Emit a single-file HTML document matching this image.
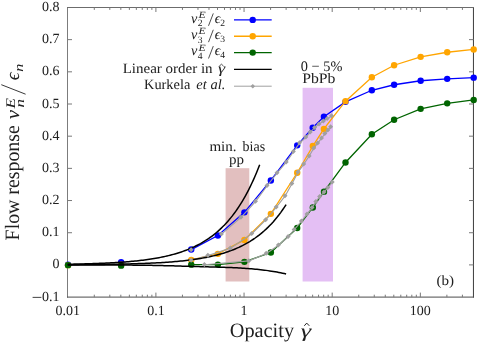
<!DOCTYPE html>
<html><head><meta charset="utf-8"><title>Flow response</title>
<style>html,body{margin:0;padding:0;background:#fff}body{width:478px;height:342px;overflow:hidden;font-family:"Liberation Serif",serif}svg{display:block}</style>
</head><body><svg width="478" height="342" viewBox="0 0 478 342" style="will-change:transform" text-rendering="geometricPrecision">
<rect x="0" y="0" width="478" height="342" fill="#fff"/>
<rect x="225.6" y="168.2" width="23.7" height="113.3" fill="#e2bfbf"/>
<rect x="302.6" y="87.8" width="30.4" height="193.7" fill="#e4bff4"/>
<path d="M67.5 7.0V297.6" stroke="#7c7c7c" stroke-width="1" fill="none"/>
<path d="M473.45 7.0V297.6" stroke="#3c3c3c" stroke-width="1" fill="none"/>
<path d="M67.0 7.5H473.95" stroke="#6c6c6c" stroke-width="1" fill="none"/>
<path d="M67.0 297.1H473.95" stroke="#4c4c4c" stroke-width="1" fill="none"/>
<path d="M67.50 264.90h4.5M473.50 264.90h-4.5M67.50 232.72h4.5M473.50 232.72h-4.5M67.50 200.54h4.5M473.50 200.54h-4.5M67.50 168.36h4.5M473.50 168.36h-4.5M67.50 136.18h4.5M473.50 136.18h-4.5M67.50 104.00h4.5M473.50 104.00h-4.5M67.50 71.82h4.5M473.50 71.82h-4.5M67.50 39.64h4.5M473.50 39.64h-4.5M94.29 297.10v-2.4 M94.29 7.50v2.4M109.81 297.10v-2.4 M109.81 7.50v2.4M120.82 297.10v-2.4 M120.82 7.50v2.4M129.36 297.10v-2.4 M129.36 7.50v2.4M136.34 297.10v-2.4 M136.34 7.50v2.4M142.25 297.10v-2.4 M142.25 7.50v2.4M147.36 297.10v-2.4 M147.36 7.50v2.4M151.87 297.10v-2.4 M151.87 7.50v2.4M155.90 297.10v-4.5 M155.90 7.50v4.5M182.44 297.10v-2.4 M182.44 7.50v2.4M197.96 297.10v-2.4 M197.96 7.50v2.4M208.97 297.10v-2.4 M208.97 7.50v2.4M217.51 297.10v-2.4 M217.51 7.50v2.4M224.49 297.10v-2.4 M224.49 7.50v2.4M230.40 297.10v-2.4 M230.40 7.50v2.4M235.51 297.10v-2.4 M235.51 7.50v2.4M240.02 297.10v-2.4 M240.02 7.50v2.4M244.05 297.10v-4.5 M244.05 7.50v4.5M270.59 297.10v-2.4 M270.59 7.50v2.4M286.11 297.10v-2.4 M286.11 7.50v2.4M297.12 297.10v-2.4 M297.12 7.50v2.4M305.66 297.10v-2.4 M305.66 7.50v2.4M312.64 297.10v-2.4 M312.64 7.50v2.4M318.55 297.10v-2.4 M318.55 7.50v2.4M323.66 297.10v-2.4 M323.66 7.50v2.4M328.17 297.10v-2.4 M328.17 7.50v2.4M332.20 297.10v-4.5 M332.20 7.50v4.5M358.74 297.10v-2.4 M358.74 7.50v2.4M374.26 297.10v-2.4 M374.26 7.50v2.4M385.27 297.10v-2.4 M385.27 7.50v2.4M393.81 297.10v-2.4 M393.81 7.50v2.4M400.79 297.10v-2.4 M400.79 7.50v2.4M406.70 297.10v-2.4 M406.70 7.50v2.4M411.81 297.10v-2.4 M411.81 7.50v2.4M416.32 297.10v-2.4 M416.32 7.50v2.4M420.35 297.10v-4.5 M420.35 7.50v4.5M446.89 297.10v-2.4 M446.89 7.50v2.4M462.41 297.10v-2.4 M462.41 7.50v2.4" fill="none" stroke="#787878" stroke-width="1"/>
<polyline fill="none" stroke="#0000ff" stroke-width="1.3"  points="191.25,249.55 217.90,235.55 244.40,212.35 270.85,180.45 297.20,145.35 312.70,127.75 323.90,116.65 345.50,101.85 371.85,90.25 394.10,84.75 420.65,80.75 447.20,78.85 473.70,77.65"/>
<circle cx="68.05" cy="264.70" r="3.2" fill="#0000ff"/><circle cx="121.12" cy="262.30" r="3.2" fill="#0000ff"/><circle cx="191.25" cy="249.55" r="3.2" fill="#0000ff"/><circle cx="217.90" cy="235.55" r="3.2" fill="#0000ff"/><circle cx="244.40" cy="212.35" r="3.2" fill="#0000ff"/><circle cx="270.85" cy="180.45" r="3.2" fill="#0000ff"/><circle cx="297.20" cy="145.35" r="3.2" fill="#0000ff"/><circle cx="312.70" cy="127.75" r="3.2" fill="#0000ff"/><circle cx="323.90" cy="116.65" r="3.2" fill="#0000ff"/><circle cx="345.50" cy="101.85" r="3.2" fill="#0000ff"/><circle cx="371.85" cy="90.25" r="3.2" fill="#0000ff"/><circle cx="394.10" cy="84.75" r="3.2" fill="#0000ff"/><circle cx="420.65" cy="80.75" r="3.2" fill="#0000ff"/><circle cx="447.20" cy="78.85" r="3.2" fill="#0000ff"/><circle cx="473.70" cy="77.65" r="3.2" fill="#0000ff"/>
<polyline fill="none" stroke="#ffa500" stroke-width="1.3"  points="191.25,259.95 217.90,253.85 244.40,239.95 270.85,213.85 297.20,172.75 312.80,146.05 323.90,128.95 345.50,101.15 371.85,77.25 394.10,65.25 420.65,56.85 447.20,52.25 473.70,49.45"/>
<circle cx="68.05" cy="265.15" r="3.2" fill="#ffa500"/><circle cx="121.12" cy="264.65" r="3.2" fill="#ffa500"/><circle cx="191.25" cy="259.95" r="3.2" fill="#ffa500"/><circle cx="217.90" cy="253.85" r="3.2" fill="#ffa500"/><circle cx="244.40" cy="239.95" r="3.2" fill="#ffa500"/><circle cx="270.85" cy="213.85" r="3.2" fill="#ffa500"/><circle cx="297.20" cy="172.75" r="3.2" fill="#ffa500"/><circle cx="312.80" cy="146.05" r="3.2" fill="#ffa500"/><circle cx="323.90" cy="128.95" r="3.2" fill="#ffa500"/><circle cx="345.50" cy="101.15" r="3.2" fill="#ffa500"/><circle cx="371.85" cy="77.25" r="3.2" fill="#ffa500"/><circle cx="394.10" cy="65.25" r="3.2" fill="#ffa500"/><circle cx="420.65" cy="56.85" r="3.2" fill="#ffa500"/><circle cx="447.20" cy="52.25" r="3.2" fill="#ffa500"/><circle cx="473.70" cy="49.45" r="3.2" fill="#ffa500"/>
<polyline fill="none" stroke="#006400" stroke-width="1.3"  points="191.25,264.65 217.90,264.60 244.40,261.85 270.85,252.55 297.20,227.95 312.80,207.45 324.00,191.65 345.50,162.45 371.85,134.25 394.10,119.75 420.65,108.85 447.20,103.35 473.70,99.95"/>
<circle cx="68.05" cy="265.15" r="3.2" fill="#006400"/><circle cx="121.12" cy="265.65" r="3.2" fill="#006400"/><circle cx="191.25" cy="264.65" r="3.2" fill="#006400"/><circle cx="217.90" cy="264.60" r="3.2" fill="#006400"/><circle cx="244.40" cy="261.85" r="3.2" fill="#006400"/><circle cx="270.85" cy="252.55" r="3.2" fill="#006400"/><circle cx="297.20" cy="227.95" r="3.2" fill="#006400"/><circle cx="312.80" cy="207.45" r="3.2" fill="#006400"/><circle cx="324.00" cy="191.65" r="3.2" fill="#006400"/><circle cx="345.50" cy="162.45" r="3.2" fill="#006400"/><circle cx="371.85" cy="134.25" r="3.2" fill="#006400"/><circle cx="394.10" cy="119.75" r="3.2" fill="#006400"/><circle cx="420.65" cy="108.85" r="3.2" fill="#006400"/><circle cx="447.20" cy="103.35" r="3.2" fill="#006400"/><circle cx="473.70" cy="99.95" r="3.2" fill="#006400"/>
<polyline fill="none" stroke="#a0a0a0" stroke-width="1.15"  points="221.55,234.15 241.05,217.35 255.65,201.35 267.15,185.75 277.15,172.95 286.35,162.15 293.45,151.75 299.65,142.95 305.95,137.25 310.35,132.15 314.75,127.65 319.15,124.05 323.55,121.05 327.25,118.65 331.65,115.95"/>
<polyline fill="none" stroke="#a0a0a0" stroke-width="1.15"  points="191.25,260.35 208.05,255.45 230.45,248.15 251.85,233.75 265.75,219.95 276.35,207.25 285.15,195.95 291.95,183.75 298.05,172.25 303.85,164.05 309.25,156.05 313.85,148.05 317.75,143.15 321.65,138.05 324.95,133.75 327.95,130.05 330.75,126.95"/>
<polyline fill="none" stroke="#a0a0a0" stroke-width="1.15"  points="204.55,264.75 248.95,260.85 266.35,253.45 278.55,245.25 288.25,236.75 294.25,229.55 301.55,221.05 307.15,214.15 312.15,207.55 315.95,201.55 319.75,196.55 324.15,192.15 327.95,187.65 332.35,182.05"/>
<polyline fill="none" stroke="#000000" stroke-width="1.5"  points="67.75,264.23 69.35,264.21 70.95,264.18 72.55,264.14 74.15,264.11 75.75,264.08 77.35,264.04 78.95,264.01 80.55,263.97 82.15,263.93 83.75,263.89 85.35,263.85 86.94,263.80 88.54,263.75 90.14,263.70 91.74,263.65 93.34,263.60 94.94,263.54 96.54,263.49 98.14,263.43 99.74,263.36 101.34,263.30 102.94,263.23 104.54,263.16 106.14,263.08 107.74,263.01 109.34,262.93 110.94,262.84 112.54,262.75 114.14,262.66 115.74,262.57 117.34,262.47 118.94,262.36 120.54,262.26 122.14,262.14 123.74,262.02 125.33,261.90 126.93,261.77 128.53,261.64 130.13,261.50 131.73,261.36 133.33,261.21 134.93,261.05 136.53,260.88 138.13,260.71 139.73,260.53 141.33,260.35 142.93,260.15 144.53,259.95 146.13,259.74 147.73,259.52 149.33,259.29 150.93,259.05 152.53,258.80 154.13,258.54 155.73,258.27 157.33,257.99 158.93,257.69 160.53,257.38 162.13,257.06 163.72,256.73 165.32,256.38 166.92,256.02 168.52,255.64 170.12,255.24 171.72,254.83 173.32,254.40 174.92,253.95 176.52,253.48 178.12,253.00 179.72,252.49 181.32,251.96 182.92,251.41 184.52,250.83 186.12,250.23 187.72,249.61 189.32,248.95 190.92,248.27 192.52,247.56 194.12,246.82 195.72,246.05 197.32,245.25 198.92,244.41 200.52,243.54 202.11,242.62 203.71,241.67 205.31,240.68 206.91,239.65 208.51,238.57 210.11,237.45 211.71,236.28 213.31,235.06 214.91,233.78 216.51,232.46 218.11,231.07 219.71,229.63 221.31,228.12 222.91,226.55 224.51,224.92 226.11,223.21 227.71,221.43 229.31,219.58 230.91,217.64 232.51,215.63 234.11,213.52 235.71,211.33 237.31,209.05 238.91,206.66 240.50,204.18 242.10,201.59 243.70,198.89 245.30,196.07 246.90,193.13 248.50,190.07 250.10,186.88 251.70,183.55 253.30,180.08 254.90,176.46 256.50,172.69 258.10,168.75 259.70,164.65"/>
<polyline fill="none" stroke="#000000" stroke-width="1.5"  points="67.75,264.70 69.57,264.69 71.39,264.68 73.21,264.67 75.03,264.66 76.85,264.64 78.67,264.63 80.49,264.62 82.31,264.61 84.13,264.59 85.95,264.58 87.77,264.56 89.59,264.54 91.41,264.53 93.23,264.51 95.04,264.49 96.86,264.47 98.68,264.45 100.50,264.43 102.32,264.40 104.14,264.38 105.96,264.35 107.78,264.33 109.60,264.30 111.42,264.27 113.24,264.24 115.06,264.21 116.88,264.17 118.70,264.14 120.52,264.10 122.34,264.06 124.16,264.02 125.98,263.98 127.80,263.93 129.62,263.89 131.44,263.84 133.26,263.79 135.08,263.73 136.90,263.68 138.72,263.62 140.54,263.55 142.36,263.49 144.18,263.42 146.00,263.35 147.81,263.27 149.63,263.19 151.45,263.11 153.27,263.02 155.09,262.93 156.91,262.83 158.73,262.73 160.55,262.63 162.37,262.52 164.19,262.40 166.01,262.28 167.83,262.15 169.65,262.02 171.47,261.88 173.29,261.73 175.11,261.58 176.93,261.42 178.75,261.25 180.57,261.07 182.39,260.88 184.21,260.69 186.03,260.48 187.85,260.27 189.67,260.04 191.49,259.80 193.31,259.56 195.13,259.30 196.95,259.02 198.76,258.74 200.58,258.44 202.40,258.12 204.22,257.79 206.04,257.45 207.86,257.08 209.68,256.70 211.50,256.31 213.32,255.89 215.14,255.45 216.96,254.99 218.78,254.51 220.60,254.00 222.42,253.47 224.24,252.91 226.06,252.33 227.88,251.72 229.70,251.08 231.52,250.40 233.34,249.70 235.16,248.96 236.98,248.18 238.80,247.37 240.62,246.51 242.44,245.62 244.26,244.68 246.08,243.69 247.90,242.66 249.72,241.58 251.53,240.44 253.35,239.25 255.17,238.01 256.99,236.70 258.81,235.32 260.63,233.88 262.45,232.37 264.27,230.79 266.09,229.13 267.91,227.39 269.73,225.56 271.55,223.65 273.37,221.64 275.19,219.53 277.01,217.33 278.83,215.01 280.65,212.58 282.47,210.03 284.29,207.36 286.11,204.56"/>
<polyline fill="none" stroke="#000000" stroke-width="1.5"  points="67.75,264.93 69.57,264.93 71.39,264.93 73.21,264.93 75.03,264.94 76.85,264.94 78.67,264.94 80.49,264.94 82.31,264.94 84.13,264.95 85.95,264.95 87.77,264.95 89.59,264.95 91.41,264.96 93.23,264.96 95.04,264.96 96.86,264.97 98.68,264.97 100.50,264.97 102.32,264.98 104.14,264.98 105.96,264.99 107.78,264.99 109.60,265.00 111.42,265.00 113.24,265.01 115.06,265.02 116.88,265.02 118.70,265.03 120.52,265.04 122.34,265.05 124.16,265.06 125.98,265.07 127.80,265.08 129.62,265.10 131.44,265.11 133.26,265.13 135.08,265.14 136.90,265.16 138.72,265.18 140.54,265.20 142.36,265.22 144.18,265.25 146.00,265.27 147.81,265.30 149.63,265.33 151.45,265.36 153.27,265.39 155.09,265.43 156.91,265.46 158.73,265.50 160.55,265.54 162.37,265.58 164.19,265.63 166.01,265.67 167.83,265.72 169.65,265.77 171.47,265.82 173.29,265.87 175.11,265.92 176.93,265.97 178.75,266.02 180.57,266.08 182.39,266.13 184.21,266.19 186.03,266.24 187.85,266.30 189.67,266.35 191.49,266.40 193.31,266.46 195.13,266.51 196.95,266.56 198.76,266.62 200.58,266.67 202.40,266.72 204.22,266.77 206.04,266.82 207.86,266.87 209.68,266.92 211.50,266.97 213.32,267.02 215.14,267.07 216.96,267.12 218.78,267.18 220.60,267.23 222.42,267.29 224.24,267.35 226.06,267.41 227.88,267.47 229.70,267.54 231.52,267.62 233.34,267.69 235.16,267.78 236.98,267.86 238.80,267.96 240.62,268.06 242.44,268.17 244.26,268.28 246.08,268.40 247.90,268.53 249.72,268.67 251.53,268.82 253.35,268.98 255.17,269.15 256.99,269.32 258.81,269.51 260.63,269.71 262.45,269.92 264.27,270.15 266.09,270.38 267.91,270.63 269.73,270.90 271.55,271.18 273.37,271.47 275.19,271.78 277.01,272.10 278.83,272.45 280.65,272.80 282.47,273.18 284.29,273.58 286.11,274.00"/>
<path d="M191.10 247.20l2.5 2.5l-2.5 2.5l-2.5 -2.5z" fill="#a0a0a0"/><path d="M221.40 231.50l2.5 2.5l-2.5 2.5l-2.5 -2.5z" fill="#a0a0a0"/><path d="M240.90 214.70l2.5 2.5l-2.5 2.5l-2.5 -2.5z" fill="#a0a0a0"/><path d="M255.50 198.70l2.5 2.5l-2.5 2.5l-2.5 -2.5z" fill="#a0a0a0"/><path d="M267.00 183.10l2.5 2.5l-2.5 2.5l-2.5 -2.5z" fill="#a0a0a0"/><path d="M277.00 170.30l2.5 2.5l-2.5 2.5l-2.5 -2.5z" fill="#a0a0a0"/><path d="M286.20 159.50l2.5 2.5l-2.5 2.5l-2.5 -2.5z" fill="#a0a0a0"/><path d="M293.30 149.10l2.5 2.5l-2.5 2.5l-2.5 -2.5z" fill="#a0a0a0"/><path d="M299.50 140.30l2.5 2.5l-2.5 2.5l-2.5 -2.5z" fill="#a0a0a0"/><path d="M305.80 134.60l2.5 2.5l-2.5 2.5l-2.5 -2.5z" fill="#a0a0a0"/><path d="M310.20 129.50l2.5 2.5l-2.5 2.5l-2.5 -2.5z" fill="#a0a0a0"/><path d="M314.60 125.00l2.5 2.5l-2.5 2.5l-2.5 -2.5z" fill="#a0a0a0"/><path d="M319.00 121.40l2.5 2.5l-2.5 2.5l-2.5 -2.5z" fill="#a0a0a0"/><path d="M323.40 118.40l2.5 2.5l-2.5 2.5l-2.5 -2.5z" fill="#a0a0a0"/><path d="M327.10 116.00l2.5 2.5l-2.5 2.5l-2.5 -2.5z" fill="#a0a0a0"/><path d="M331.50 113.30l2.5 2.5l-2.5 2.5l-2.5 -2.5z" fill="#a0a0a0"/>
<path d="M191.10 257.70l2.5 2.5l-2.5 2.5l-2.5 -2.5z" fill="#a0a0a0"/><path d="M207.90 252.80l2.5 2.5l-2.5 2.5l-2.5 -2.5z" fill="#a0a0a0"/><path d="M230.30 245.50l2.5 2.5l-2.5 2.5l-2.5 -2.5z" fill="#a0a0a0"/><path d="M251.70 231.10l2.5 2.5l-2.5 2.5l-2.5 -2.5z" fill="#a0a0a0"/><path d="M265.60 217.30l2.5 2.5l-2.5 2.5l-2.5 -2.5z" fill="#a0a0a0"/><path d="M276.20 204.60l2.5 2.5l-2.5 2.5l-2.5 -2.5z" fill="#a0a0a0"/><path d="M285.00 193.30l2.5 2.5l-2.5 2.5l-2.5 -2.5z" fill="#a0a0a0"/><path d="M291.80 181.10l2.5 2.5l-2.5 2.5l-2.5 -2.5z" fill="#a0a0a0"/><path d="M297.90 169.60l2.5 2.5l-2.5 2.5l-2.5 -2.5z" fill="#a0a0a0"/><path d="M303.70 161.40l2.5 2.5l-2.5 2.5l-2.5 -2.5z" fill="#a0a0a0"/><path d="M309.10 153.40l2.5 2.5l-2.5 2.5l-2.5 -2.5z" fill="#a0a0a0"/><path d="M313.70 145.40l2.5 2.5l-2.5 2.5l-2.5 -2.5z" fill="#a0a0a0"/><path d="M317.60 140.50l2.5 2.5l-2.5 2.5l-2.5 -2.5z" fill="#a0a0a0"/><path d="M321.50 135.40l2.5 2.5l-2.5 2.5l-2.5 -2.5z" fill="#a0a0a0"/><path d="M324.80 131.10l2.5 2.5l-2.5 2.5l-2.5 -2.5z" fill="#a0a0a0"/><path d="M327.80 127.40l2.5 2.5l-2.5 2.5l-2.5 -2.5z" fill="#a0a0a0"/><path d="M330.60 124.30l2.5 2.5l-2.5 2.5l-2.5 -2.5z" fill="#a0a0a0"/>
<path d="M204.40 262.10l2.5 2.5l-2.5 2.5l-2.5 -2.5z" fill="#a0a0a0"/><path d="M248.80 258.20l2.5 2.5l-2.5 2.5l-2.5 -2.5z" fill="#a0a0a0"/><path d="M266.20 250.80l2.5 2.5l-2.5 2.5l-2.5 -2.5z" fill="#a0a0a0"/><path d="M278.40 242.60l2.5 2.5l-2.5 2.5l-2.5 -2.5z" fill="#a0a0a0"/><path d="M288.10 234.10l2.5 2.5l-2.5 2.5l-2.5 -2.5z" fill="#a0a0a0"/><path d="M294.10 226.90l2.5 2.5l-2.5 2.5l-2.5 -2.5z" fill="#a0a0a0"/><path d="M301.40 218.40l2.5 2.5l-2.5 2.5l-2.5 -2.5z" fill="#a0a0a0"/><path d="M307.00 211.50l2.5 2.5l-2.5 2.5l-2.5 -2.5z" fill="#a0a0a0"/><path d="M312.00 204.90l2.5 2.5l-2.5 2.5l-2.5 -2.5z" fill="#a0a0a0"/><path d="M315.80 198.90l2.5 2.5l-2.5 2.5l-2.5 -2.5z" fill="#a0a0a0"/><path d="M319.60 193.90l2.5 2.5l-2.5 2.5l-2.5 -2.5z" fill="#a0a0a0"/><path d="M324.00 189.50l2.5 2.5l-2.5 2.5l-2.5 -2.5z" fill="#a0a0a0"/><path d="M327.80 185.00l2.5 2.5l-2.5 2.5l-2.5 -2.5z" fill="#a0a0a0"/><path d="M332.20 179.40l2.5 2.5l-2.5 2.5l-2.5 -2.5z" fill="#a0a0a0"/>
<path d="M234 19.90H271.7" stroke="#0000ff" stroke-width="1.3"/>
<circle cx="252.7" cy="19.90" r="3.2" fill="#0000ff"/>
<path d="M234 36.25H271.7" stroke="#ffa500" stroke-width="1.3"/>
<circle cx="252.7" cy="36.25" r="3.2" fill="#ffa500"/>
<path d="M234 52.60H271.7" stroke="#006400" stroke-width="1.3"/>
<circle cx="252.7" cy="52.60" r="3.2" fill="#006400"/>
<path d="M234 69.40H271.7" stroke="#000000" stroke-width="1.3"/>
<path d="M234 86.20H271.7" stroke="#a0a0a0" stroke-width="1.0"/>
<path d="M252.80 83.90l2.3 2.3l-2.3 2.3l-2.3 -2.3z" fill="#a0a0a0"/>
<g font-family="'Liberation Serif', serif" fill="#202020"><text x="59.6" y="300.58" font-size="14.0" text-anchor="end" >0.1</text><path d="M32.6 297.38H41.4" stroke="#222" stroke-width="0.85" fill="none"/><text x="59.6" y="268.4" font-size="14.0" text-anchor="end" >0</text><text x="59.6" y="236.21999999999997" font-size="14.0" text-anchor="end" >0.1</text><text x="59.6" y="204.03999999999996" font-size="14.0" text-anchor="end" >0.2</text><text x="59.6" y="171.85999999999996" font-size="14.0" text-anchor="end" >0.3</text><text x="59.6" y="139.67999999999998" font-size="14.0" text-anchor="end" >0.4</text><text x="59.6" y="107.49999999999994" font-size="14.0" text-anchor="end" >0.5</text><text x="59.6" y="75.31999999999994" font-size="14.0" text-anchor="end" >0.6</text><text x="59.6" y="43.13999999999996" font-size="14.0" text-anchor="end" >0.7</text><text x="59.6" y="10.95999999999998" font-size="14.0" text-anchor="end" >0.8</text><text x="67.75" y="315.0" font-size="14.0" text-anchor="middle" >0.01</text><text x="155.90" y="315.0" font-size="14.0" text-anchor="middle" >0.1</text><text x="244.05" y="315.0" font-size="14.0" text-anchor="middle" >1</text><text x="332.20" y="315.0" font-size="14.0" text-anchor="middle" >10</text><text x="420.35" y="315.0" font-size="14.0" text-anchor="middle" >100</text><text x="209.4" y="151.4" font-size="14.3" text-anchor="start" textLength="27.2" lengthAdjust="spacingAndGlyphs">min.</text><text x="242.6" y="151.4" font-size="14.3" text-anchor="start" textLength="22.6" lengthAdjust="spacingAndGlyphs">bias</text><text x="236.6" y="163.6" font-size="14.3" text-anchor="middle" textLength="15" lengthAdjust="spacingAndGlyphs">pp</text><text x="321.6" y="70.6" font-size="14.5" text-anchor="middle" textLength="41.5" lengthAdjust="spacingAndGlyphs">0 − 5%</text><text x="318.8" y="82.8" font-size="14.5" text-anchor="middle" textLength="33.2" lengthAdjust="spacingAndGlyphs">PbPb</text><text x="445.3" y="285.0" font-size="14.0" text-anchor="middle" textLength="17.6" lengthAdjust="spacingAndGlyphs">(b)</text><text x="191.0" y="22.60" font-size="14.2" font-style="italic">v</text><text x="198.4" y="17.90" font-size="9.6" font-style="italic" textLength="7.2" lengthAdjust="spacingAndGlyphs">E</text><text x="197.7" y="26.20" font-size="9.6">2</text><path d="M208.5 25.80L213.3 13.40" stroke="#222" stroke-width="0.8" fill="none"/><text x="214.8" y="22.60" font-size="14.2" font-style="italic">ϵ</text><text x="220.3" y="25.50" font-size="9.6">2</text><text x="191.0" y="38.95" font-size="14.2" font-style="italic">v</text><text x="198.4" y="34.25" font-size="9.6" font-style="italic" textLength="7.2" lengthAdjust="spacingAndGlyphs">E</text><text x="197.7" y="42.55" font-size="9.6">3</text><path d="M208.5 42.15L213.3 29.75" stroke="#222" stroke-width="0.8" fill="none"/><text x="214.8" y="38.95" font-size="14.2" font-style="italic">ϵ</text><text x="220.3" y="41.85" font-size="9.6">3</text><text x="191.0" y="55.30" font-size="14.2" font-style="italic">v</text><text x="198.4" y="50.60" font-size="9.6" font-style="italic" textLength="7.2" lengthAdjust="spacingAndGlyphs">E</text><text x="197.7" y="58.90" font-size="9.6">4</text><path d="M208.5 58.50L213.3 46.10" stroke="#222" stroke-width="0.8" fill="none"/><text x="214.8" y="55.30" font-size="14.2" font-style="italic">ϵ</text><text x="220.3" y="58.20" font-size="9.6">4</text><text x="122.7" y="72.6" font-size="14.2" textLength="89.9" lengthAdjust="spacingAndGlyphs">Linear order in</text><text x="217.9" y="72.6" font-size="14.2" font-style="italic" textLength="7.2" lengthAdjust="spacingAndGlyphs">γ</text><path d="M219.2 66.2L221.5 64.2L223.6 66.2" stroke="#222" stroke-width="0.8" fill="none"/><text x="144.0" y="88.8" font-size="14.2" textLength="46.3" lengthAdjust="spacingAndGlyphs">Kurkela</text><text x="196.3" y="88.8" font-size="14.2" font-style="italic" textLength="29.0" lengthAdjust="spacingAndGlyphs">et al.</text><text x="229.7" y="336.6" font-size="20.4" textLength="64.4" lengthAdjust="spacingAndGlyphs">Opacity</text><text x="300.8" y="336.6" font-size="18.5" font-style="italic" textLength="10.4" lengthAdjust="spacingAndGlyphs">γ</text><path d="M304.3 325.8L306.7 323.1L309.3 325.8" stroke="#222" stroke-width="1" fill="none"/><g transform="translate(18.7,240.4) rotate(-90)"><text x="0" y="0" font-size="20.4" textLength="115.2" lengthAdjust="spacingAndGlyphs">Flow response</text><text x="121.1" y="0" font-size="19.5" font-style="italic" textLength="9.3" lengthAdjust="spacingAndGlyphs">v</text><text x="131.9" y="-3.6" font-size="13.2" font-style="italic" textLength="10.5" lengthAdjust="spacingAndGlyphs">E</text><text x="132.9" y="5.4" font-size="12.8" font-style="italic" textLength="8.5" lengthAdjust="spacingAndGlyphs">n</text><path d="M146.2 6.9L155.7 -17.4" stroke="#222" stroke-width="0.9" fill="none"/><text x="160.2" y="0" font-size="19.5" font-style="italic" textLength="7.8" lengthAdjust="spacingAndGlyphs">ϵ</text><text x="168.6" y="4" font-size="12.8" font-style="italic" textLength="8" lengthAdjust="spacingAndGlyphs">n</text></g></g>
</svg></body></html>
